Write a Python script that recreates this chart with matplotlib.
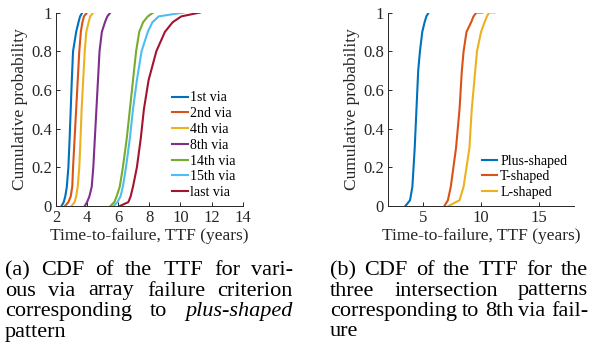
import matplotlib.pyplot as plt

plt.rcParams['font.family'] = ['Liberation Serif', 'DejaVu Serif']

# cumulative probability levels and TTF (years) read at those levels
p_a = [0, 0.02, 0.05, 0.1, 0.2, 0.35, 0.5, 0.65, 0.8, 0.9, 0.95, 0.98, 1]
ttf_1st = [2.36, 2.5, 2.6, 2.7, 2.8, 2.88, 2.95, 3.02, 3.1, 3.3, 3.45, 3.55, 3.7]
ttf_2nd = [2.58, 2.8, 2.95, 3.05, 3.1, 3.2, 3.3, 3.4, 3.5, 3.6, 3.7, 3.8, 4.0]
ttf_4th = [3.0, 3.2, 3.3, 3.4, 3.5, 3.58, 3.65, 3.75, 3.85, 3.95, 4.1, 4.2, 4.4]
ttf_8th = [3.85, 4.0, 4.15, 4.3, 4.4, 4.5, 4.6, 4.7, 4.8, 4.95, 5.15, 5.3, 5.5]
ttf_14th = [5.5, 5.75, 5.9, 6.1, 6.3, 6.55, 6.75, 6.95, 7.15, 7.35, 7.6, 7.9, 8.25]
ttf_15th = [5.7, 5.95, 6.15, 6.3, 6.5, 6.75, 6.95, 7.2, 7.5, 7.9, 8.2, 8.6, 10.2]
ttf_last = [6.1, 6.65, 6.8, 6.95, 7.2, 7.45, 7.65, 7.95, 8.45, 9.0, 9.5, 10.05, 11.25]
labels_a = ['1st via', '2nd via', '4th via', '8th via', '14th via', '15th via', 'last via']

p_b = [0, 0.03, 0.1, 0.3, 0.5, 0.7, 0.8, 0.9, 0.95, 0.98, 1, 1]
ttf_plus = [3.5, 3.9, 4.1, 4.3, 4.45, 4.6, 4.75, 4.95, 5.15, 5.3, 5.5, 5.5]
ttf_t = [6.85, 7.15, 7.4, 7.85, 8.15, 8.35, 8.5, 8.75, 9.15, 9.35, 9.6, 10.1]
ttf_l = [7.2, 8.15, 8.5, 9.0, 9.2, 9.5, 9.65, 10.0, 10.3, 10.5, 10.7, 11.15]
labels_b = ['Plus-shaped', 'T-shaped', 'L-shaped']

# caption lines, (word, italic)
cap_a = [
    [('(a)', 0), ('CDF', 0), ('of', 0), ('the', 0), ('TTF', 0), ('for', 0), ('vari-', 0)],
    [('ous', 0), ('via', 0), ('array', 0), ('failure', 0), ('criterion', 0)],
    [('corresponding', 0), ('to', 0), ('plus-shaped', 1)],
    [('pattern', 0)],
]
cap_b = [
    [('(b)', 0), ('CDF', 0), ('of', 0), ('the', 0), ('TTF', 0), ('for', 0), ('the', 0)],
    [('three', 0), ('intersection', 0), ('patterns', 0)],
    [('corresponding', 0), ('to', 0), ('8th', 0), ('via', 0), ('fail-', 0)],
    [('ure', 0)],
]

colors = ['#0072BD', '#D95319', '#EDB120', '#7E2F8E', '#77AC30', '#4DBEEE', '#A2142F']
axis_col = '#262626'

W, H = 595, 348
fig = plt.figure(figsize=(W / 100, H / 100), dpi=100)
ax1 = fig.add_axes([0.094, 0.408, 0.314, 0.556])
ax2 = fig.add_axes([0.652, 0.408, 0.313, 0.556])


def style(ax):
    for s in ['top', 'right']:
        ax.spines[s].set_visible(False)
    for s in ['left', 'bottom']:
        ax.spines[s].set_color(axis_col)
        ax.spines[s].set_linewidth(0.7)
    ax.tick_params(direction='in', length=3, width=0.7, colors=axis_col,
                   labelsize=12, pad=3)
    ax.set_ylim(0, 1)
    ax.set_yticks([0, 0.2, 0.4, 0.6, 0.8, 1])
    ax.set_yticklabels(['0', '0.2', '0.4', '0.6', '0.8', '1'])
    ax.set_xlabel('Time-to-failure, TTF (years)', fontsize=12.5, color=axis_col, labelpad=1)
    ax.set_ylabel('Cumulative probability', fontsize=12.5, color=axis_col, labelpad=2)


leg_kw = dict(loc='lower right', frameon=False, fontsize=10, handlelength=1.1,
              handletextpad=0.2, labelspacing=0.2, borderaxespad=0.1)

series_a = [ttf_1st, ttf_2nd, ttf_4th, ttf_8th, ttf_14th, ttf_15th, ttf_last]
for x, c, lab in zip(series_a, colors, labels_a):
    ax1.plot(x, p_a, color=c, lw=1.5, label=lab)
style(ax1)
ax1.set_xlim(2, 14)
ax1.set_xticks(range(2, 15, 2))
ax1.legend(**leg_kw)

for x, c, lab in zip([ttf_plus, ttf_t, ttf_l], colors, labels_b):
    ax2.plot(x, p_b, color=c, lw=1.5, label=lab)
style(ax2)
ax2.set_xlim(2, 18)
ax2.set_xticks([5, 10, 15])
ax2.legend(**leg_kw)

# justified captions
renderer = fig.canvas.get_renderer()
cap_size = 16


def caption(lines, x0, x1, y0, dy):
    space = cap_size * 100 / 72 * 0.25
    for i, words in enumerate(lines):
        y = y0 + i * dy
        texts = [fig.text(0, 0, w, fontsize=cap_size, va='baseline', ha='left',
                          style='italic' if it else 'normal') for w, it in words]
        widths = [t.get_window_extent(renderer).width for t in texts]
        last = i == len(lines) - 1
        if last or len(texts) == 1:
            gap = space
        else:
            gap = max((x1 - x0 - sum(widths)) / (len(texts) - 1), space * 0.6)
        x = x0
        for t, w in zip(texts, widths):
            t.set_position((x / W, 1 - y / H))
            x += w + gap


caption(cap_a, 5, 293, 275, 20.5)
caption(cap_b, 330, 588, 275, 20.5)

fig.savefig('out.png', dpi=100)
